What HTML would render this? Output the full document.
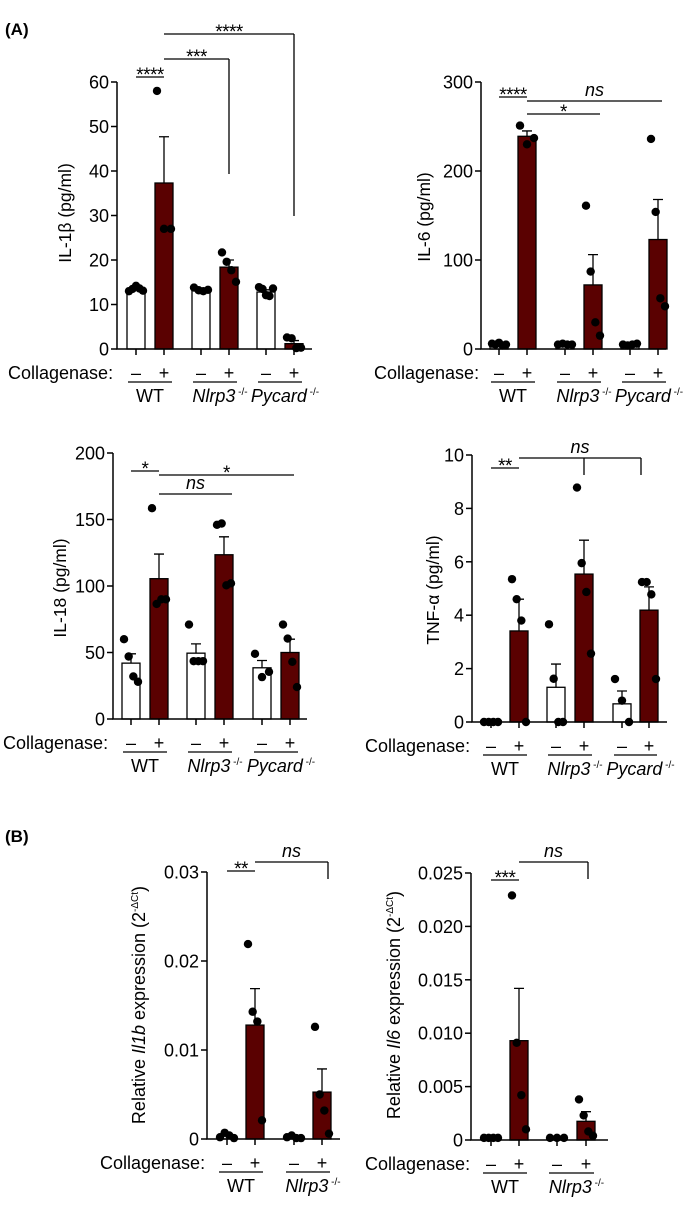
<!DOCTYPE html>
<html><head><meta charset="utf-8"><style>
html,body{margin:0;padding:0;background:#fff;}
svg{display:block;font-family:"Liberation Sans",Arial,sans-serif;}
</style></head><body>
<svg id="fig" width="686" height="1210" viewBox="0 0 686 1210" xmlns="http://www.w3.org/2000/svg">
<text x="5" y="35" font-size="17" font-weight="bold">(A)</text>
<text x="5" y="842" font-size="17" font-weight="bold">(B)</text>
</svg>
<script>
// ---------- data ----------
const groups3 = ["WT","Nlrp3","Pycard"];
const groups2 = ["WT","Nlrp3"];
// IL-1b
const il1bTicks = [0,10,20,30,40,50,60];
const il1bMeans = [13.5,37.3,13.3,18.4,12.8,1.2];
const il1bSem = [0.3,10.4,0.2,1.6,0.5,0.7];
const il1bPts = [[13,13.5,14.2,13.6,13.1],[58,27,27],[13.8,13.2,13,13.3],[21.7,19.6,17.7,15.1],[13.9,13.5,12.1,11.9,13.6],[2.6,2.4,0.2,0.3]];
// IL-6
const il6Ticks = [0,100,200,300];
const il6Means = [6,239,5,72,5,123];
const il6Sem = [1,6,0.5,34,0.5,45];
const il6Pts = [[6,5,7,4,5],[251,230,237],[5,6,5,5],[161,87,30,15],[5,4,5,6],[236,154,57,48]];
// IL-18
const il18Ticks = [0,50,100,150,200];
const il18Means = [42,105.5,49.5,123.5,38.5,50];
const il18Sem = [7,18.5,7,13.5,5.5,10];
const il18Pts = [[60,47,32,28],[158.5,86.5,90,90],[71,43.5,43.5,43.5],[146,147,100.5,102],[49,31.5,35.5],[71,60.5,43,24]];
// TNF-a
const tnfTicks = [0,2,4,6,8,10];
const tnfMeans = [0,3.41,1.3,5.54,0.68,4.19];
const tnfSem = [0,1.19,0.87,1.27,0.48,0.87];
const tnfPts = [[0,0,0,0],[5.35,4.6,3.8,0],[3.66,1.62,0,0],[8.78,5.95,4.87,2.56],[1.61,0.8,0],[5.24,5.24,4.78,1.61]];
// Il1b expression
const exIl1bTicks = [0,0.01,0.02,0.03];
const exIl1bLabels = ["0","0.01","0.02","0.03"];
const exIl1bMeans = [0.0004,0.0128,0.0002,0.00527];
const exIl1bSem = [0.0001,0.0041,0.0001,0.0026];
const exIl1bPts = [[0.0002,0.0007,0.0004,0.0001],[0.0219,0.0143,0.0132,0.0021],[0.0002,0.0004,0.0001,0.0001],[0.0126,0.005,0.0032,0.0006]];
// Il6 expression
const exIl6Ticks = [0,0.005,0.01,0.015,0.02,0.025];
const exIl6Labels = ["0","0.005","0.010","0.015","0.020","0.025"];
const exIl6Means = [0.0002,0.0093,0.0002,0.00175];
const exIl6Sem = [0.00005,0.0049,0.00005,0.0009];
const exIl6Pts = [[0.0002,0.0002,0.0002,0.0002],[0.0229,0.0091,0.0042,0.001],[0.0002,0.0002,0.0002],[0.0038,0.0023,0.0008,0.0004]];

// ---------- drawing ----------
const NS = "http://www.w3.org/2000/svg";
const svg = document.getElementById("fig");
const RED = "#5a0101";
function mk(tag, attrs, parent){
  const e = document.createElementNS(NS, tag);
  for (const k in attrs) e.setAttribute(k, attrs[k]);
  (parent||svg).appendChild(e);
  return e;
}
function panel(cfg){
  const g = mk("g", {});
  
  
  const maxV = cfg.ticks[cfg.ticks.length-1];
  const y = v => cfg.y0 - (v/maxV)*(cfg.y0-cfg.yTop);
  const bw = 18;
  cfg.means.forEach((m,i)=>{
    const cx = cfg.xs[i];
    const plus = i%2===1;
    const top = y(m);
    const r = mk("rect",{x:cx-bw/2,y:top,width:bw,height:Math.max(cfg.y0-top,0.01),fill:plus?RED:"#fff",stroke:"#000","stroke-width":1.3},g);
    
    
    const ey = y(m+cfg.sem[i]);
    const eb = mk("path",{d:`M${cx} ${top} V${ey} M${cx-5} ${ey} H${cx+5}`,stroke:"#000","stroke-width":1.3,fill:"none"},g);
    
    
  });
  cfg.pts.forEach((arr,i)=>{
    const n = arr.length;
    arr.forEach((v,j)=>{
      const off = n===1?0:(-7 + 14*j/(n-1));
      const c = mk("circle",{cx:cfg.xs[i]+off,cy:y(v),r:4.2,fill:"#000"},g);
      
      
    });
  });
  const ax = mk("path",{d:`M${cfg.axX} ${cfg.yTop} V${cfg.y0} H${cfg.axEnd}`,stroke:"#000","stroke-width":1.5,fill:"none"},g);
  
  
  cfg.ticks.forEach((t,k)=>{
    const ty = y(t);
    mk("line",{x1:cfg.axX-6,x2:cfg.axX,y1:ty,y2:ty,stroke:"#000","stroke-width":1.5},g);
    const tl = mk("text",{x:cfg.axX-8,y:ty+6.5,"font-size":18,"text-anchor":"end"},g);
    tl.textContent = cfg.labels?cfg.labels[k]:String(t);
    
    
  });
  cfg.xs.forEach(cx=>mk("line",{x1:cx,x2:cx,y1:cfg.y0,y2:cfg.y0+6,stroke:"#000","stroke-width":1.5},g));
  const yt = mk("text",{x:0,y:0,"font-size":cfg.titleSize||17.5,"text-anchor":"middle",transform:`translate(${cfg.titleX},${cfg.titleY}) rotate(-90)`},g);
  yt.innerHTML = cfg.title;
  
  
  const cl = mk("text",{x:cfg.collX,y:cfg.y0+30,"font-size":18},g);
  cl.textContent = "Collagenase:";
  
  
  cfg.xs.forEach((cx,i)=>{
    const s = mk("text",{x:cx,y:cfg.y0+30,"font-size":18,"text-anchor":"middle"},g);
    s.textContent = i%2? "+" : "\u2013";
    
    
  });
  cfg.groups.forEach((gn,k)=>{
    const a = cfg.xs[2*k], b = cfg.xs[2*k+1];
    mk("line",{x1:a-8,x2:b+8,y1:cfg.y0+33,y2:cfg.y0+33,stroke:"#000","stroke-width":1.2},g);
    const t = mk("text",{x:(a+b)/2+(gn==="WT"?0:5),y:cfg.y0+53,"font-size":18,"text-anchor":"middle"},g);
    if (gn==="WT") t.textContent="WT";
    else t.innerHTML = `<tspan font-style="italic">${gn}</tspan><tspan font-size="10" dy="-7"> -/-</tspan>`;
    
    
  });
  cfg.sig.forEach(s=>{
    let d = `M${cfg.xs[s.a]} ${s.y} H${s.bx!==undefined?s.bx:cfg.xs[s.b]}`;
    (s.drops||[]).forEach(dx=>{ d += ` M${dx} ${s.y} V${s.dropTo}`; });
    const p = mk("path",{d,stroke:"#000","stroke-width":1.3,fill:"none"},g);
    
    
    const x2 = s.bx!==undefined?s.bx:cfg.xs[s.b];
    const ns = s.t==="ns";
    const t = mk("text",{x:(cfg.xs[s.a]+x2)/2,y:ns?s.y-5:s.y+4,"font-size":ns?18:19,"font-style":ns?"italic":"normal","text-anchor":"middle","letter-spacing":ns?0:-0.5},g);
    t.textContent = s.t;
    
    
  });
}

panel({name:"il1b-chart",groups:groups3,ticks:il1bTicks,means:il1bMeans,sem:il1bSem,pts:il1bPts,
  axX:117,yTop:82,y0:349,axEnd:312,xs:[136,164,201,229,266,294],
  title:"IL-1β (pg/ml)",titleX:71,titleY:213,collX:8,
  sig:[{a:0,b:1,y:77,t:"****"},{a:1,b:3,y:59,t:"***",drops:[229],dropTo:174},{a:1,b:5,y:34,t:"****",drops:[294],dropTo:216}]});
panel({name:"il6-chart",groups:groups3,ticks:il6Ticks,means:il6Means,sem:il6Sem,pts:il6Pts,
  axX:481,yTop:82,y0:349,axEnd:666,xs:[499,527,565,593,630,658],
  title:"IL-6 (pg/ml)",titleX:430,titleY:217,collX:374,
  sig:[{a:0,b:1,y:97,t:"****"},{a:1,bx:662,y:101,t:"ns"},{a:1,bx:600,y:114,t:"*"}]});
panel({name:"il18-chart",groups:groups3,ticks:il18Ticks,means:il18Means,sem:il18Sem,pts:il18Pts,
  axX:113,yTop:453,y0:719,axEnd:307,xs:[131,159,196,224,262,290],
  title:"IL-18 (pg/ml)",titleX:66,titleY:588,collX:3,
  sig:[{a:0,b:1,y:471,t:"*"},{a:1,bx:294,y:475,t:"*"},{a:1,bx:232,y:494,t:"ns"}]});
panel({name:"tnf-chart",groups:groups3,ticks:tnfTicks,means:tnfMeans,sem:tnfSem,pts:tnfPts,
  axX:472,yTop:455,y0:722,axEnd:667,xs:[491,519,556,584,622,649],
  title:"TNF-α (pg/ml)",titleX:439,titleY:590,collX:365,
  sig:[{a:0,b:1,y:468,t:"**"},{a:1,bx:641,y:458,t:"ns",drops:[584,641],dropTo:475}]});
panel({name:"il1b-expression-chart",groups:groups2,ticks:exIl1bTicks,labels:exIl1bLabels,means:exIl1bMeans,sem:exIl1bSem,pts:exIl1bPts,
  axX:207,yTop:872,y0:1139,axEnd:340,xs:[227,255,294,322],titleSize:18,
  title:'Relative <tspan font-style="italic">Il1b</tspan> expression (2<tspan font-size="10" dy="-7">-ΔCt</tspan><tspan dy="7">)</tspan>',titleX:145,titleY:1005,collX:100,
  sig:[{a:0,b:1,y:871,t:"**"},{a:1,bx:328,y:862,t:"ns",drops:[328],dropTo:879}]});
panel({name:"il6-expression-chart",groups:groups2,ticks:exIl6Ticks,labels:exIl6Labels,means:exIl6Means,sem:exIl6Sem,pts:exIl6Pts,
  axX:471,yTop:873,y0:1140,axEnd:608,xs:[491,519,557,586],titleSize:18,
  title:'Relative <tspan font-style="italic">Il6</tspan> expression (2<tspan font-size="10" dy="-7">-ΔCt</tspan><tspan dy="7">)</tspan>',titleX:400,titleY:1005,collX:365,
  sig:[{a:0,b:1,y:880,t:"***"},{a:1,bx:588,y:862,t:"ns",drops:[588],dropTo:879}]});
</script>
</body></html>
